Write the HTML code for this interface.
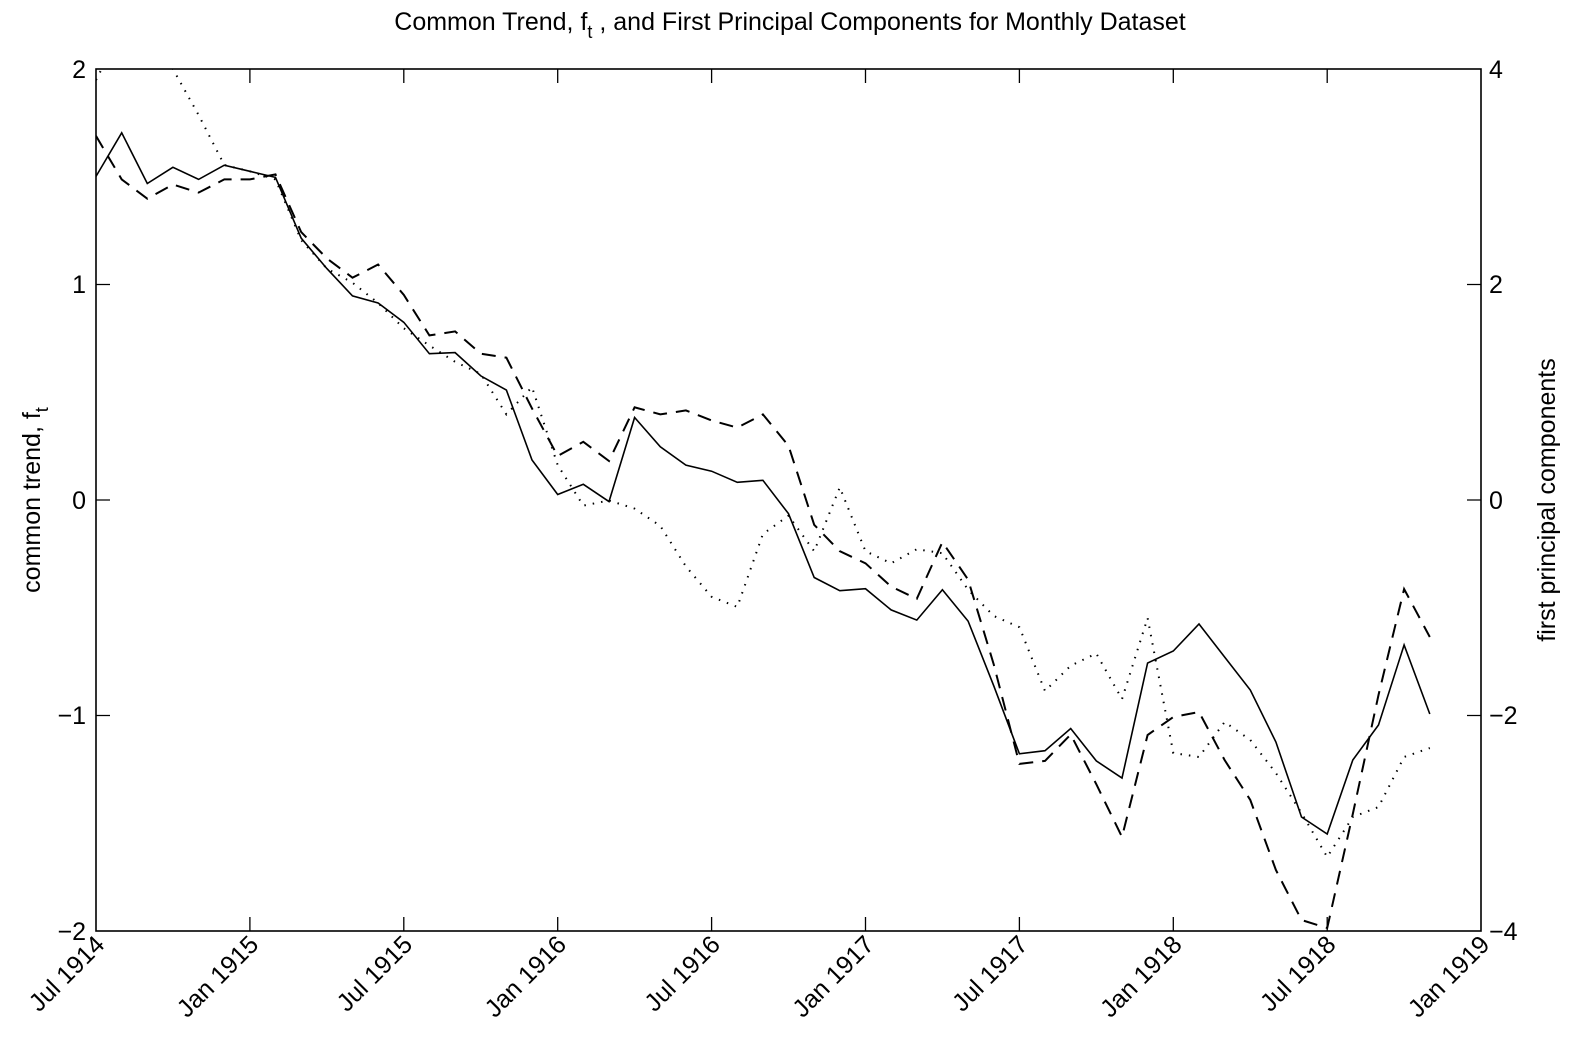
<!DOCTYPE html>
<html><head><style>body{margin:0;background:#fff}</style></head><body>
<svg id="s" width="1584" height="1054" xmlns="http://www.w3.org/2000/svg" font-family="Liberation Sans, sans-serif">
<rect width="1584" height="1054" fill="#fff"/>
<defs><clipPath id="c"><rect x="96" y="69" width="1385" height="862"/></clipPath></defs>
<g clip-path="url(#c)" fill="none" stroke="#000" stroke-width="1.6">
<polyline id="p1"/>
<polyline id="p2" stroke-dasharray="14,9" stroke-width="2"/>
<polyline id="p3" stroke-dasharray="1.5,7" stroke-width="2"/>
</g>
<rect x="96" y="69" width="1385" height="862" fill="none" stroke="#000" stroke-width="1.6"/>
<g stroke="#000" stroke-width="1.3">
<path d="M96,284.5h14M96,500h14M96,715.5h14M1481,284.5h-14M1481,500h-14M1481,715.5h-14"/>
<path id="tk"/>
</g>
<g font-size="25" text-anchor="end">
<text x="86" y="78">2</text><text x="86" y="293">1</text><text x="86" y="509">0</text><text x="86" y="724">−1</text><text x="86" y="940">−2</text>
</g>
<g font-size="25" text-anchor="start">
<text x="1489" y="78">4</text><text x="1489" y="293">2</text><text x="1489" y="509">0</text><text x="1489" y="724">−2</text><text x="1489" y="940">−4</text>
</g>
<g font-size="25" text-anchor="end" id="xl"></g>
<text x="790" y="30" font-size="25" text-anchor="middle">Common Trend, f<tspan font-size="18" dy="8">t</tspan><tspan dy="-8"> , and First Principal Components for Monthly Dataset</tspan></text>
<text transform="translate(40,500) rotate(-90)" font-size="25" text-anchor="middle">common trend, f<tspan font-size="18" dy="8">t</tspan></text>
<text transform="translate(1555,500) rotate(-90)" font-size="25" text-anchor="middle">first principal components</text>
</svg>
<script>
function sc(a){return a.map(function(y){return 69+(y-69)*1.013;});}
var s1=sc([175,132,182,166,178,164,170,176,236,266,293,300,319,350,349,372,386,455,489,479,496,413,442,460,466,477,475,508,571,584,582,603,613,583,614,678,745,742,720,752,769]).concat([663,651,624,657,690,742,817,834,760,725,645,714]);
var s2=sc([135,178,197,183,191,178,178,173,230,256,275,262,292,332,328,350,354,404,451,437,456,403,410,406,416,423,410,441,519,545,557,580,592,536,573,657,755,752,726,775,827]).concat([735,717,712,760,800,870,920,928,814,695,589,637]);
var s3=[80,30,30,69,115,165].concat(sc([170,178,238,266,280,300,325,342,358,370,410,383,460,500,495,503,520,560,590,600,528,510,545,482,545,557,543,547,583,609,620,683,658,646,691])).concat([618,753,757,722,740,773,813,857,817,807,757,748]);
function pts(a){return a.map(function(y,k){return (96+25.65*k).toFixed(1)+','+y.toFixed(1);}).join(' ');}
document.getElementById('p1').setAttribute('points',pts(s1));
document.getElementById('p2').setAttribute('points',pts(s2));
document.getElementById('p3').setAttribute('points',pts(s3));
var d='',lab=['Jul 1914','Jan 1915','Jul 1915','Jan 1916','Jul 1916','Jan 1917','Jul 1917','Jan 1918','Jul 1918','Jan 1919'],g=document.getElementById('xl'),h='';
for(var j=0;j<10;j++){var x=96+25.65*6*j;x=Math.min(x,1481);if(j>0&&j<9)d+='M'+x+',931v-14M'+x+',69v14';
h+='<text transform="translate('+(x+10)+',946) rotate(-45)">'+lab[j]+'</text>';}
document.getElementById('tk').setAttribute('d',d);g.innerHTML=h;
</script>
</body></html>
